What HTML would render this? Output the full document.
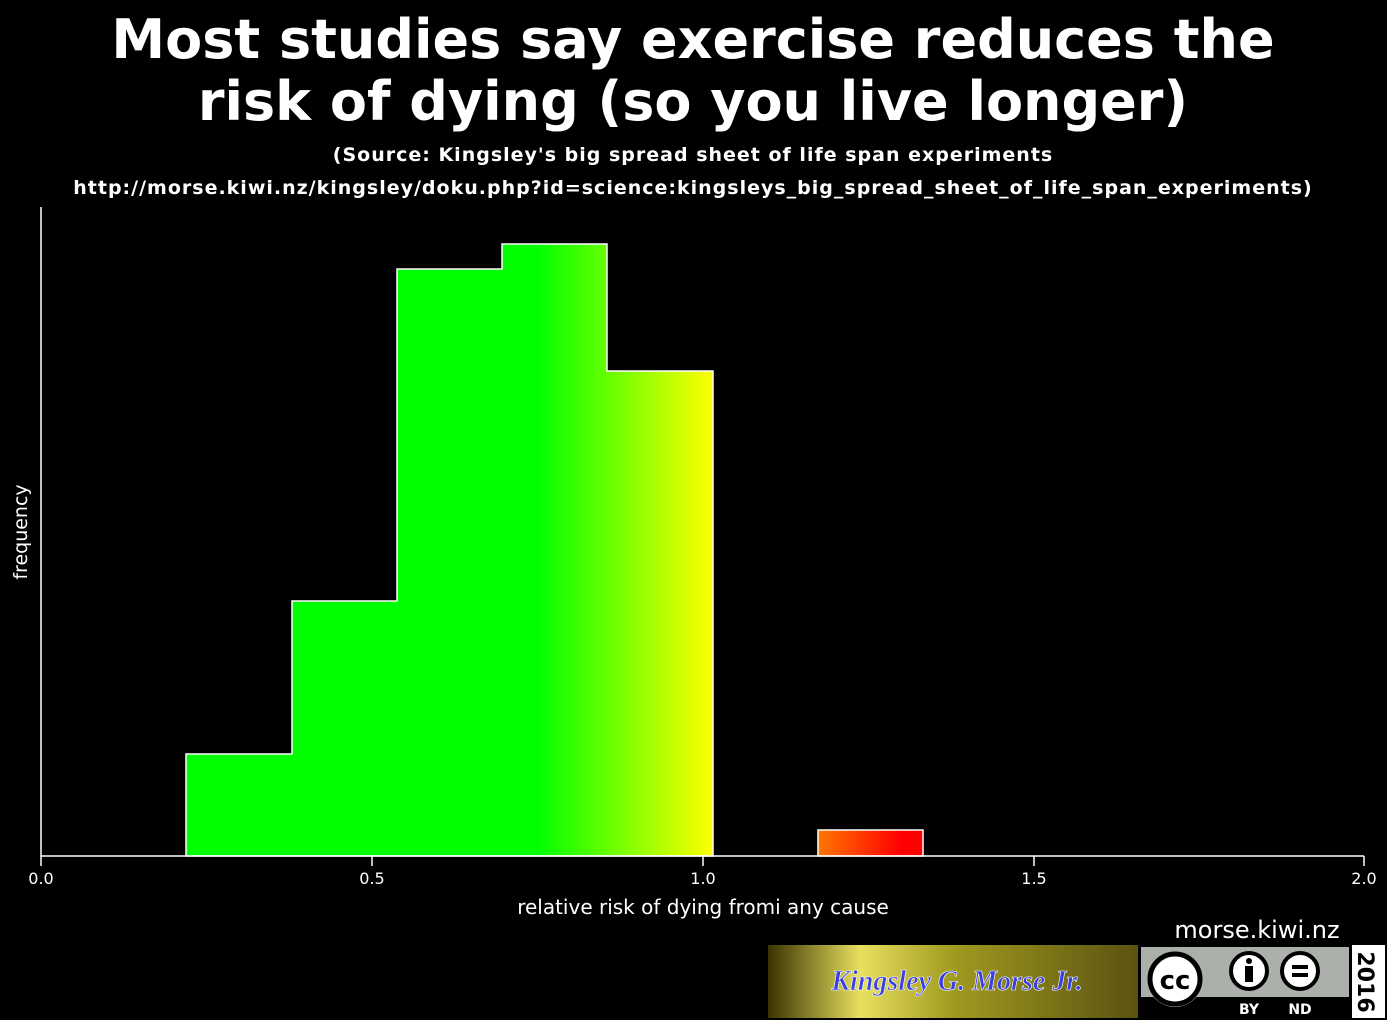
<!DOCTYPE html>
<html><head><meta charset="utf-8">
<style>html,body{margin:0;padding:0;background:#000;}svg{display:block}</style>
</head><body>
<svg width="1387" height="1020" viewBox="0 0 1387 1020" xmlns="http://www.w3.org/2000/svg" font-family="'DejaVu Sans', 'Liberation Sans', sans-serif">
<defs>
<linearGradient id="g" gradientUnits="userSpaceOnUse" x1="41" y1="0" x2="1364" y2="0">
<stop offset="0" stop-color="#00ff00"/>
<stop offset="0.375" stop-color="#00ff00"/>
<stop offset="0.508" stop-color="#ffff00"/>
<stop offset="0.587" stop-color="#ff7700"/>
<stop offset="0.65" stop-color="#ff0000"/>
<stop offset="1" stop-color="#ff0000"/>
</linearGradient>
<linearGradient id="y" x1="0" y1="0" x2="1" y2="0">
<stop offset="0" stop-color="#3a3300"/>
<stop offset="0.25" stop-color="#e8e060"/>
<stop offset="0.5" stop-color="#a09a20"/>
<stop offset="1" stop-color="#5a5210"/>
</linearGradient>
</defs>
<rect width="1387" height="1020" fill="#000"/>
<text x="693" y="58" fill="#fff" font-size="54" font-weight="bold" text-anchor="middle">Most studies say exercise reduces the</text>
<text x="693" y="120" fill="#fff" font-size="54" font-weight="bold" text-anchor="middle">risk of dying (so you live longer)</text>
<text x="693" y="161" fill="#fff" font-size="19" font-weight="bold" text-anchor="middle" letter-spacing="1">(Source: Kingsley's big spread sheet of life span experiments</text>
<text x="693" y="194" fill="#fff" font-size="19" font-weight="bold" text-anchor="middle" letter-spacing="1">http://morse.kiwi.nz/kingsley/doku.php?id=science:kingsleys_big_spread_sheet_of_life_span_experiments)</text>
<path d="M186,856 V754 H292 V601 H397 V269 H502 V244 H607 V371 H713 V856 Z" fill="url(#g)" stroke="#fff" stroke-width="1.5"/>
<path d="M818,856 V830 H923 V856 Z" fill="url(#g)" stroke="#fff" stroke-width="1.5"/>
<g stroke="#fff" stroke-width="1.5">
<line x1="41" y1="207" x2="41" y2="866"/>
<line x1="41" y1="856" x2="1364" y2="856"/>
<line x1="372" y1="856" x2="372" y2="866"/>
<line x1="703" y1="856" x2="703" y2="866"/>
<line x1="1034" y1="856" x2="1034" y2="866"/>
<line x1="1364" y1="856" x2="1364" y2="866"/>
</g>
<g fill="#fff" font-size="16" text-anchor="middle">
<text x="41" y="884">0.0</text><text x="372" y="884">0.5</text><text x="703" y="884">1.0</text><text x="1034" y="884">1.5</text><text x="1364" y="884">2.0</text>
</g>
<text x="703" y="914" fill="#fff" font-size="20" text-anchor="middle">relative risk of dying fromi any cause</text>
<text transform="translate(27,532) rotate(-90)" fill="#fff" font-size="19" text-anchor="middle">frequency</text>
<text x="1257" y="938" fill="#fff" font-size="24" text-anchor="middle">morse.kiwi.nz</text>
<rect x="768" y="945" width="370" height="73" fill="url(#y)"/>
<text x="957" y="990" fill="#3a40e0" font-size="28" font-style="italic" font-weight="bold" text-anchor="middle" stroke="#fff" stroke-width="0.6" font-family="'Liberation Serif',serif">Kingsley G. Morse Jr.</text>
<rect x="1140" y="945" width="210" height="73" fill="#000"/>
<rect x="1141" y="947" width="208" height="50" fill="#abb1aa"/>
<circle cx="1175" cy="979" r="28" fill="#abb1aa"/>
<circle cx="1175" cy="979" r="25" fill="#fff" stroke="#000" stroke-width="5"/>
<text x="1175" y="989" font-size="26" font-weight="bold" text-anchor="middle" fill="#000">cc</text>
<circle cx="1249" cy="971" r="18" fill="#fff" stroke="#000" stroke-width="4"/>
<circle cx="1249" cy="961" r="3" fill="#000"/>
<rect x="1245" y="966" width="8" height="16" fill="#000"/>
<circle cx="1300" cy="971" r="18" fill="#fff" stroke="#000" stroke-width="4"/>
<rect x="1292" y="965" width="16" height="4" fill="#000"/><rect x="1292" y="973" width="16" height="4" fill="#000"/>
<text x="1249" y="1014" fill="#fff" font-size="14" font-weight="bold" text-anchor="middle">BY</text>
<text x="1300" y="1014" fill="#fff" font-size="14" font-weight="bold" text-anchor="middle">ND</text>
<rect x="1352" y="945" width="33" height="73" fill="#fff"/>
<text transform="translate(1358,982) rotate(90)" fill="#000" font-size="22" font-weight="bold" text-anchor="middle">2016</text>
</svg>
</body></html>
